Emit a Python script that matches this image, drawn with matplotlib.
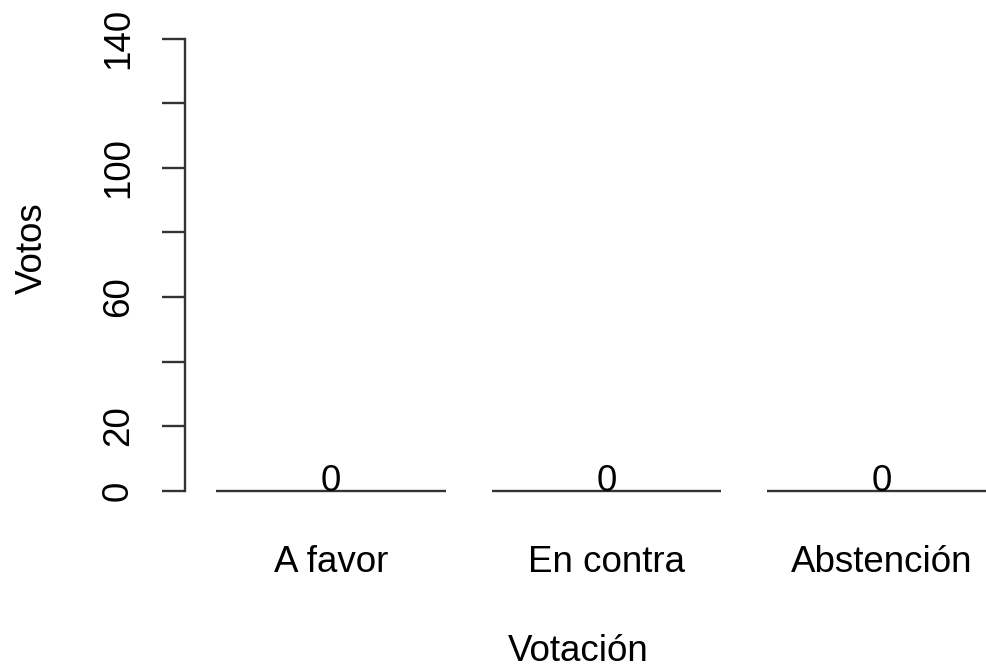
import matplotlib.pyplot as plt

# Resultado de la votación (todas las opciones sin votos)
CATEGORIAS = ["A favor", "En contra", "Abstención"]
VOTOS = [0, 0, 0]
Y_TICKS = [0, 20, 40, 60, 80, 100, 120, 140]
Y_LABELS = ["0", "20", "", "60", "", "100", "", "140"]

plt.rcParams["font.family"] = ["Liberation Sans", "DejaVu Sans"]
FS = 26.5
LINE = "#333333"

fig = plt.figure(figsize=(9.86, 6.68), dpi=100)
ax = fig.add_axes([0.18763, 0.2365, 0.79716, 0.7829])

# barplot estilo R: ancho 1, espacio 0.2
centers = [0.7 + 1.2 * i for i in range(len(CATEGORIAS))]
ax.bar(centers, VOTOS, width=1.0, color="#bebebe", edgecolor=LINE,
       linewidth=1.7, clip_on=False)
for x, v in zip(centers, VOTOS):
    ax.text(x, v, str(v), ha="center", va="baseline", fontsize=FS)

ax.set_xlim(0.0641, 3.487)
ax.set_ylim(-6, 156)

for side in ["top", "right", "bottom"]:
    ax.spines[side].set_visible(False)
ax.spines["left"].set_bounds(0, 140)
ax.spines["left"].set_color(LINE)
ax.spines["left"].set_linewidth(1.7)

ax.set_yticks(Y_TICKS, Y_LABELS)
ax.tick_params(axis="y", direction="out", length=16.5, width=1.7,
               color=LINE, pad=24.5, labelsize=FS)
for lab in ax.get_yticklabels():
    lab.set_rotation(90)
    lab.set_rotation_mode("anchor")
    lab.set_ha("center")
    lab.set_va("baseline")

ax.set_xticks(centers, CATEGORIAS)
ax.tick_params(axis="x", length=0, pad=44.6, labelsize=FS)
for lab in ax.get_xticklabels():
    lab.set_va("baseline")

ax.set_xlabel("Votación", fontsize=FS)
ax.xaxis.label.set_va("baseline")
ax.xaxis.set_label_coords(0.5, -0.2895)
ax.set_ylabel("Votos", fontsize=FS)
ax.yaxis.label.set_va("baseline")
ax.yaxis.set_label_coords(-0.1819, 0.5)

plt.savefig("out.png", dpi=100)
